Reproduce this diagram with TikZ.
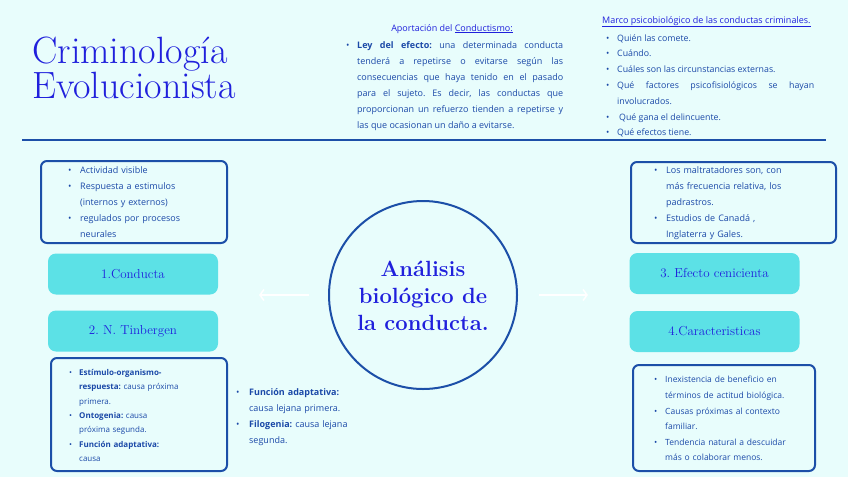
\documentclass[tikz,border=0pt]{standalone}
\usepackage{fontspec}
\setsansfont{Open Sans}
\usetikzlibrary{arrows.meta,positioning}
\frenchspacing

\definecolor{fondo}{HTML}{E8FDFC}
\definecolor{marino}{HTML}{1C4FA8}
\definecolor{azul}{HTML}{2020DC}
\definecolor{texto}{HTML}{1B49A8}
\definecolor{turquesa}{HTML}{5CE1E6}

\newlength{\sangria}
\newcommand{\punto}{\par\noindent\hangindent=\sangria\hangafter=1\makebox[\sangria][l]{\strut\textbullet}}

\tikzset{
  caja/.style={draw=marino, line width=2pt, rounded corners=6pt, anchor=north west, inner sep=0pt},
  etiqueta/.style={fill=turquesa, rounded corners=8pt, minimum width=170pt, minimum height=41pt, text=azul, font=\fontsize{13}{15}\selectfont},
  lista/.style={anchor=north west, inner sep=0pt, text=texto, align=left, execute at begin node={\setlength{\parskip}{0pt}}},
  titular/.style={anchor=base west, inner sep=0pt, text=azul, font=\fontsize{38}{34}\selectfont},
  flecha/.style={white, line width=1.5pt, -{Straight Barb[length=4pt,width=11pt]}}
}

\begin{document}
\begin{tikzpicture}[x=1pt, y=-1pt]
  \fill[fondo] (0,0) rectangle (848,477);
  \useasboundingbox (0,0) rectangle (848,477);

  \node[titular] (titulo1) at (32,63) {Criminología};
  \node[titular] (titulo2) at (32,98) {Evolucionista};

  \coordinate (ra) at (22,140);
  \coordinate (rb) at (826,140);
  \draw[marino, line width=2pt] (ra) -- (rb);

  \node[anchor=base, inner sep=0pt, text=azul, font=\sffamily\fontsize{9}{16}\selectfont] (aport) at (452,31) {Aportación del \underline{Conductismo:}};
  \node[lista, align=justify, text width=217pt, font=\sffamily\fontsize{9}{16}\selectfont] (ley) at (346,32) {\setlength{\sangria}{11pt}%
    \punto\textbf{Ley del efecto:} una determinada conducta\linebreak tenderá a repetirse o evitarse según las\linebreak consecuencias que haya tenido en el pasado\linebreak para el sujeto. Es decir, las conductas que\linebreak proporcionan un refuerzo tienden a repetirse y\linebreak las que ocasionan un daño a evitarse.\par};

  \node[anchor=base west, inner sep=0pt, text=azul, font=\sffamily\fontsize{9}{16}\selectfont] (marco) at (602,23) {\underline{Marco psicobiológico de las conductas criminales.}};
  \node[lista, align=justify, text width=208pt, font=\sffamily\fontsize{8.8}{15.8}\selectfont] (marcolista) at (606,25) {\setlength{\sangria}{11pt}%
    \punto Quién las comete.
    \punto Cuándo.
    \punto Cuáles son las circunstancias externas.
    \punto Qué factores psicofisiológicos se hayan\linebreak involucrados.
    \punto\hspace{2pt}Qué gana el delincuente.
    \punto Qué efectos tiene.\par};

  \node[caja, minimum width=186pt, minimum height=82pt] (cajaA) at (40,160) {};
  \node[lista, text width=150pt, font=\sffamily\fontsize{9}{16}\selectfont] (listaA) at (68,157) {\setlength{\sangria}{12pt}%
    \punto Actividad visible
    \punto Respuesta a estimulos\newline (internos y externos)
    \punto regulados por procesos\newline neurales\par};

  \node[etiqueta] (conducta) at (133,274) {1.Conducta};
  \node[etiqueta] (tinbergen) at (133,331) {2. N. Tinbergen};

  \node[caja, minimum width=176pt, minimum height=113pt] (cajaB) at (50,357) {};
  \node[lista, text width=150pt, font=\sffamily\fontsize{8}{14.3}\selectfont] (listaB) at (69,361) {\setlength{\sangria}{10pt}%
    \punto\textbf{Estímulo-organismo-\newline respuesta:} causa próxima\newline primera.
    \punto\textbf{Ontogenia:} causa\newline próxima segunda.
    \punto\textbf{Función adaptativa:}\newline causa\par};

  \node[lista, text width=150pt, font=\sffamily\fontsize{9}{16}\selectfont] (listaC) at (236,379) {\setlength{\sangria}{13pt}%
    \punto\textbf{Función adaptativa:}\newline causa lejana primera.
    \punto\textbf{Filogenia:} causa lejana\newline segunda.\par};

  \node[circle, draw=marino, line width=2pt, minimum size=188pt, inner sep=0pt] (circ) at (423,295) {};
  \node[text=azul, font=\bfseries\fontsize{22}{27}\selectfont, align=center, inner sep=0pt] (centro) at (423,296) {Análisis\\biológico de\\la conducta.};

  \coordinate (izq) at (259,295);
  \coordinate (der) at (588,295);
  \draw[flecha] ([xshift=-19pt]circ.west) -- (izq);
  \draw[flecha] ([xshift=21pt]circ.east) -- (der);

  \node[caja, minimum width=205pt, minimum height=81pt] (cajaC) at (630,161) {};
  \node[lista, text width=170pt, font=\sffamily\fontsize{9}{16}\selectfont] (listaD) at (654,157) {\setlength{\sangria}{12pt}%
    \punto Los maltratadores son, con\newline más frecuencia relativa, los\newline padrastros.
    \punto Estudios de Canadá ,\newline Inglaterra y Gales.\par};

  \node[etiqueta] (cenicienta) at (714.5,273.5) {3. Efecto cenicienta};
  \node[etiqueta] (caract) at (714.5,331.5) {4.Caracteristicas};

  \node[caja, minimum width=182pt, minimum height=106pt] (cajaD) at (632,364) {};
  \node[lista, text width=150pt, font=\sffamily\fontsize{8.5}{15.6}\selectfont] (listaE) at (654,367) {\setlength{\sangria}{11pt}%
    \punto Inexistencia de beneficio en\newline términos de actitud biológica.
    \punto Causas próximas al contexto\newline familiar.
    \punto Tendencia natural a descuidar\newline más o colaborar menos.\par};
\end{tikzpicture}
\end{document}
